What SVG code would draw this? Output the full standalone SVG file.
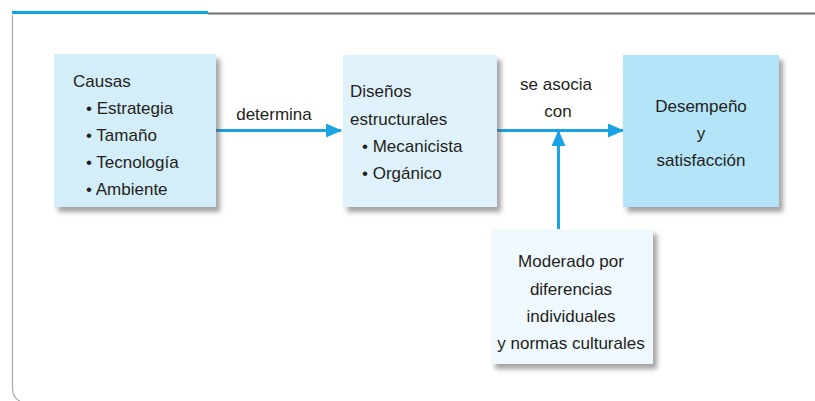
<svg xmlns="http://www.w3.org/2000/svg" width="815" height="401" viewBox="0 0 815 401">
  <style>
    .box { filter: url(#shadow); }
    .t { font-family: "Liberation Sans", Arial, sans-serif; font-size: 17px; fill: #231f20; }
    .c { text-anchor: middle; }
    .wire { stroke: #19a3e3; stroke-width: 3; fill: none; }
  </style>
  <defs>
    <filter id="shadow" x="-10%" y="-10%" width="130%" height="130%">
      <feDropShadow dx="4" dy="5" stdDeviation="2.5" flood-color="#555" flood-opacity="0.55"/>
    </filter>
    <marker id="head" viewBox="0 0 16 14" refX="15" refY="7" markerWidth="16" markerHeight="14" markerUnits="userSpaceOnUse" orient="auto">
      <path d="M0,0 L16,7 L0,14 Z" fill="#19a3e3"/>
    </marker>
  </defs>

  <!-- page frame -->
  <rect width="815" height="401" fill="#ffffff"/>
  <g id="frame">
    <line x1="208" y1="13.5" x2="815" y2="13.5" stroke="#6b7176" stroke-width="2"/>
    <line x1="12" y1="12.5" x2="208" y2="12.5" stroke="#0aa5e6" stroke-width="3"/>
    <path d="M12.5,15 V388 Q12.5,398 20,401" stroke="#a9a9a9" stroke-width="1.2" fill="none"/>
  </g>

  <!-- connectors -->
  <g id="connectors">
    <line class="wire" x1="216" y1="130.5" x2="341" y2="130.5" marker-end="url(#head)"/>
    <line class="wire" x1="497" y1="130.5" x2="623" y2="130.5" marker-end="url(#head)"/>
    <line class="wire" x1="558.5" y1="229" x2="558.5" y2="131" marker-end="url(#head)"/>
    <text class="t c" x="274" y="120">determina</text>
    <text class="t c" x="556" y="90">se asocia</text>
    <text class="t c" x="558" y="117">con</text>
  </g>

  <!-- causes -->
  <g id="causas">
    <rect class="box" x="54" y="54" width="162" height="153" fill="#d3eef9"/>
    <text class="t" x="73" y="87">Causas</text>
    <text class="t" x="86" y="114">• Estrategia</text>
    <text class="t" x="86" y="141">• Tamaño</text>
    <text class="t" x="86" y="168">• Tecnología</text>
    <text class="t" x="86" y="195">• Ambiente</text>
  </g>

  <!-- structural designs -->
  <g id="disenos">
    <rect class="box" x="343" y="55" width="154" height="152" fill="#dff2fb"/>
    <text class="t" x="350" y="97">Diseños</text>
    <text class="t" x="350" y="125">estructurales</text>
    <text class="t" x="362" y="152">• Mecanicista</text>
    <text class="t" x="362" y="179">• Orgánico</text>
  </g>

  <!-- outcome -->
  <g id="desempeno">
    <rect class="box" x="623" y="55" width="156" height="152" fill="#b4e4f8"/>
    <text class="t c" x="701" y="112">Desempeño</text>
    <text class="t c" x="701" y="139">y</text>
    <text class="t c" x="701" y="166">satisfacción</text>
  </g>

  <!-- moderators -->
  <g id="moderado">
    <rect class="box" x="491" y="229" width="162" height="135" fill="#eef8fd"/>
    <text class="t c" x="571" y="267">Moderado por</text>
    <text class="t c" x="571" y="295">diferencias</text>
    <text class="t c" x="571" y="322">individuales</text>
    <text class="t c" x="571" y="349">y normas culturales</text>
  </g>
</svg>
